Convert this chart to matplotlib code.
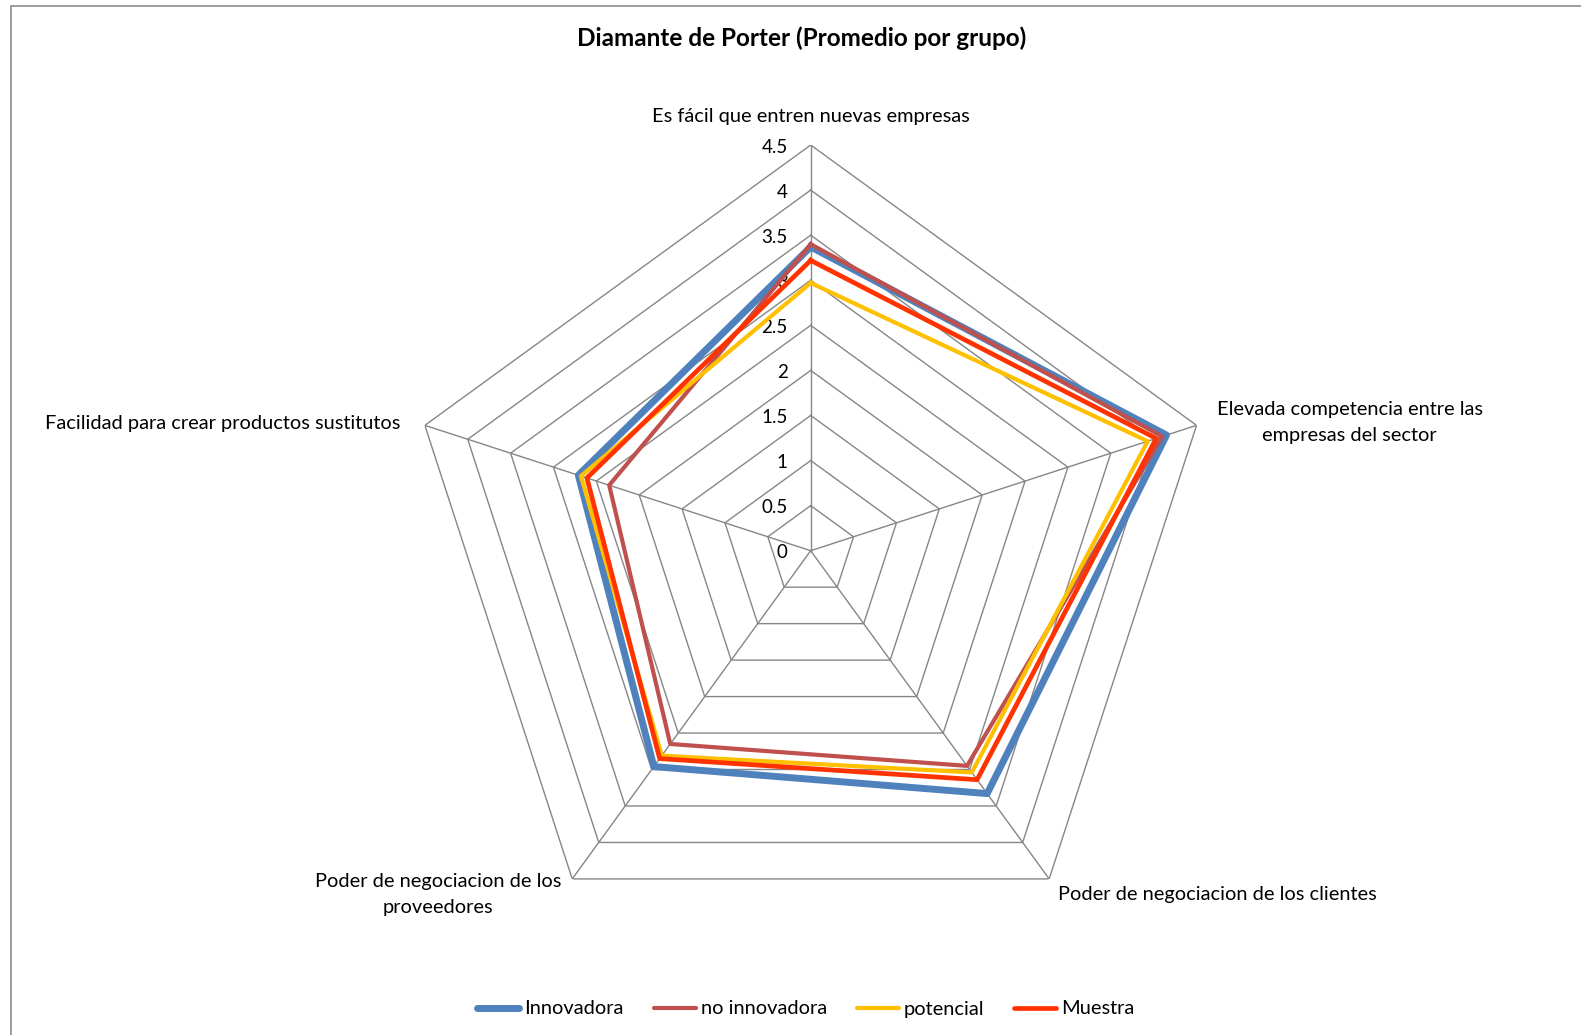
import numpy as np
import matplotlib
matplotlib.use("Agg")
import matplotlib.pyplot as plt
from matplotlib.lines import Line2D
from matplotlib.patches import Rectangle

plt.rcParams['font.family'] = ['Lato', 'DejaVu Sans']

# ---- data -------------------------------------------------------------
categories = [
    "Es fácil que entren nuevas empresas",
    "Elevada competencia entre las\nempresas del sector",
    "Poder de negociacion de los clientes",
    "Poder de negociacion de los\nproveedores",
    "Facilidad para crear productos sustitutos",
]
series_names = ["Innovadora", "no innovadora", "potencial", "Muestra"]
innovadora = [3.37, 4.15, 3.33, 2.96, 2.71]
no_innovadora = [3.40, 4.10, 2.95, 2.65, 2.35]
potencial = [2.97, 3.93, 3.04, 2.81, 2.68]
muestra = [3.22, 4.03, 3.14, 2.85, 2.61]
tick_levels = [0, 0.5, 1, 1.5, 2, 2.5, 3, 3.5, 4, 4.5]

series_values = [innovadora, no_innovadora, potencial, muestra]
colors = ["#4F81BD", "#C0504D", "#FFC000", "#FF3300"]
widths = [5.0, 3.0, 3.0, 3.4]

W, H, DPI = 1581, 1035, 100
fig = plt.figure(figsize=(W / DPI, H / DPI), dpi=DPI)
fig.patch.set_facecolor("white")

# outer chart frame
fig.add_artist(Rectangle((10.5 / W, -0.1), 1.2, 1 - 5.5 / H + 0.1,
                         transform=fig.transFigure, fill=False,
                         edgecolor="#8C8C8C", lw=1.2))

# radar area (square in pixels)
cx, cy, R = 810.7, 550.7, 405.7
ax = fig.add_axes([(cx - R) / W, (H - cy - R) / H, 2 * R / W, 2 * R / H],
                  projection="polar")
ax.set_theta_offset(np.pi / 2)
ax.set_theta_direction(-1)
ax.set_ylim(0, tick_levels[-1])
ax.set_xticks([])
ax.set_yticks([])
ax.grid(False)
ax.spines["polar"].set_visible(False)
ax.patch.set_alpha(0)

n = len(categories)
angles = np.arange(n) * 2 * np.pi / n
closed = np.append(angles, angles[0])

grid_col = "#868686"
for lvl in tick_levels[1:]:
    ax.plot(closed, [lvl] * (n + 1), color=grid_col, lw=1.0, zorder=1)
for a in angles:
    ax.plot([a, a], [0, tick_levels[-1]], color=grid_col, lw=1.0, zorder=1)

for lvl in tick_levels:
    ax.annotate(f"{lvl:g}", xy=(0, lvl), xytext=(-23, -2),
                textcoords="offset pixels", ha="right", va="center",
                fontsize=13.5, color="black")

for vals, col, lw in zip(series_values, colors, widths):
    ax.plot(closed, vals + vals[:1], color=col, lw=lw, zorder=3)

# axis labels around the diamond
label_offsets = [
    ((0, 29), "center", "center"),
    ((153, 3), "center", "center"),
    ((9, -16), "left", "center"),
    ((-134, -16), "center", "center"),
    ((-24, 2), "right", "center"),
]
for a, text, (off, ha, va) in zip(angles, categories, label_offsets):
    ax.annotate(text, xy=(a, tick_levels[-1]), xytext=off,
                textcoords="offset pixels", ha=ha, va=va,
                multialignment="center", fontsize=14.4, color="black",
                linespacing=1.65, annotation_clip=False)

fig.text(802 / W, 1 - 38.5 / H, "Diamante de Porter (Promedio por grupo)",
         ha="center", va="center", fontsize=17.5, fontweight="bold")

handles = [Line2D([0], [0], color=c, lw=lw, solid_capstyle="round")
           for c, lw in zip(colors, widths)]
fig.legend(handles, series_names, loc="center",
           bbox_to_anchor=(806 / W, 1 - 1009 / H), ncol=4, frameon=False,
           fontsize=14.4, handlelength=2.1, handletextpad=0.25,
           columnspacing=1.5)

fig.savefig("out.png", dpi=DPI)
